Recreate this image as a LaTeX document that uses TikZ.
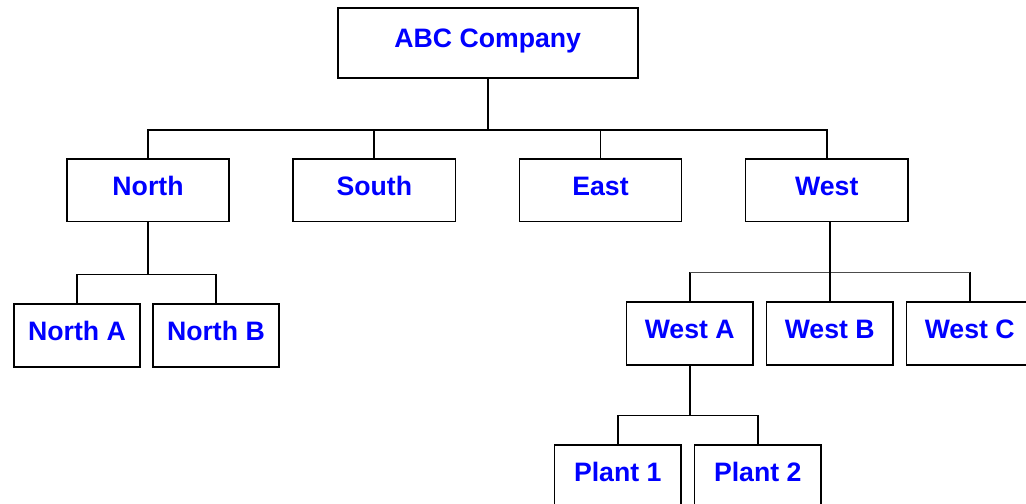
\documentclass[tikz,border=0pt]{standalone}
\usepackage{fontspec}
\setmainfont{Liberation Sans}
\usepackage{xcolor}
\usetikzlibrary{positioning}
\definecolor{unitblue}{RGB}{0,0,255}
\tikzset{
  unit/.style={draw,rectangle,line width=1.2pt,inner sep=0pt,
    font=\bfseries\fontsize{20}{24}\selectfont,text=unitblue,
    text height=0.72em,text depth=0pt,minimum height=47pt},
  company/.style={unit,minimum width=225pt,minimum height=52.5pt},
  region/.style={unit,minimum width=121.7pt},
  branch/.style={unit,minimum width=94.7pt},
  link/.style={draw,line width=1.2pt},
  thinlink/.style={draw,line width=0.8pt,black!70},
  orgchart/.style={node distance=46.8pt}
}
\begin{document}
\begin{tikzpicture}[orgchart]
      \useasboundingbox (0,0) rectangle (769.5pt,-378pt);

      \node[company] (abc) at (365.8pt,-32.25pt) {ABC Company};

      \node[region] (north) at (111pt,-142.7pt) {North};
      \node[region] (south) [right=of north] {South};
      \node[region] (east) [right=of south] {East};
      \node[region] (west) [right=of east] {West};

      \node[branch] (northa) at (57.75pt,-251.6pt) {North A};
      \node[branch] (northb) [right=8.3pt of northa] {North B};

      \node[branch] (westa) at (517.3pt,-250.1pt) {West A};
      \node[branch] (westb) [right=9.1pt of westa] {West B};
      \node[branch] (westc) [right=9.1pt of westb] {West C};

      \node[branch] (plant1) at (463.3pt,-357.4pt) {Plant 1};
      \node[branch] (plant2) [right=9.1pt of plant1] {Plant 2};

      % company to regions
      \draw[link] (north.north) -- ++(0,21pt) coordinate (topbus) -| (west.north);
      \draw[link] (abc.south) -- (abc.south |- topbus);
      \draw[link] (south.north) -- (south.north |- topbus);
      \draw[link] (east.north) -- (east.north |- topbus);

      % north
      \draw[link] (northa.north) -- ++(0,21.75pt) coordinate (northbus) -| (northb.north);
      \draw[link] (north.south) -- (north.south |- northbus);

      % west
      \draw[link] (westa.north) -- ++(0,21.75pt) coordinate (westbus);
      \draw[link] (westc.north) -- (westc.north |- westbus);
      \draw[thinlink] (westbus) -- (westc.north |- westbus);
      \draw[link] (west.south -| westb.north) -- (westb.north);

      % plants
      \draw[link] (plant1.north) -- ++(0,21.75pt) coordinate (plantbus) -| (plant2.north);
      \draw[link] (westa.south) -- (westa.south |- plantbus);
\end{tikzpicture}
\end{document}
